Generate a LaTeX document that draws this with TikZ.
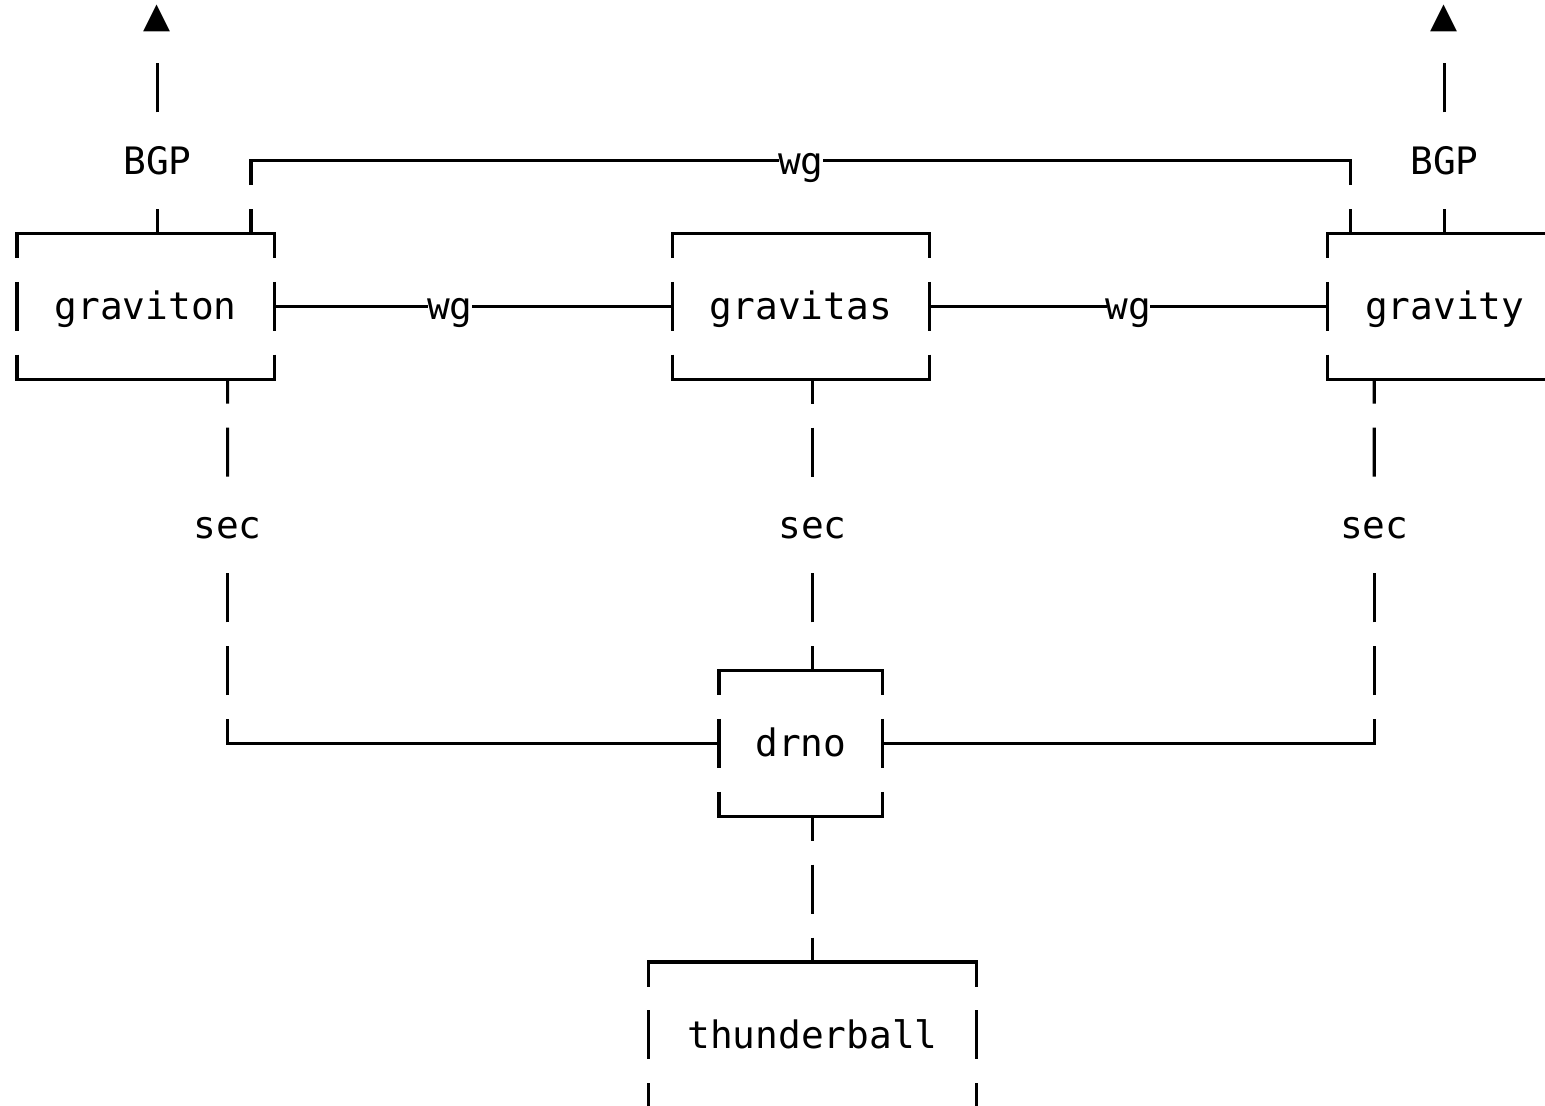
\documentclass[tikz,border=0pt]{standalone}
\usepackage{fontspec}
\setmonofont{DejaVu Sans Mono}
\newfontfamily\symfont{DejaVu Sans}
\usepackage{tikz}
\usetikzlibrary{calc}

\begin{document}
\begin{tikzpicture}[x=0.468cm, y=-1.457cm,
      txt/.style={font=\ttfamily\fontsize{21.5}{21.5}\selectfont, inner sep=0, outer sep=0, text height=0.7cm, text depth=0.16cm},
      host/.style={txt, minimum height=2.914cm},
      lbl/.style={txt, minimum height=1.457cm},
      tip/.style={font=\symfont\fontsize{20}{20}\selectfont, inner sep=0, outer sep=0, minimum height=1.457cm},
      hl/.style={line width=0.062cm, line cap=rect},
      vl/.style={line width=0.062cm, dash pattern=on 0.98cm off 0.477cm, dash phase=0.49cm}]

  \useasboundingbox (-0.7265,-0.2059) rectangle (65.299,14.976);
  \clip (-0.7265,-0.2059) rectangle (65.299,14.976);

  % Hosts
  \node[host, minimum width=5.148cm] (graviton) at (5.5,4) {graviton};
  \node[host, minimum width=5.148cm] (gravitas) at (33.5,4) {gravitas};
  \node[host, minimum width=5.148cm] (gravity) at (61.5,4) {gravity\phantom{y}};
  \node[host, minimum width=3.276cm] (drno) at (33.5,10) {drno};
  \node[host, minimum width=6.552cm] (thunderball) at (34,14) {thunderball};

  \foreach \b in {graviton, gravitas, gravity, drno, thunderball} {
    \draw[hl] (\b.north west) -- (\b.north east);
    \draw[hl] (\b.south west) -- (\b.south east);
    \draw[vl] (\b.north west) -- (\b.south west);
    \draw[vl] (\b.north east) -- (\b.south east);
  }

  % Labels
  \node[lbl, minimum width=0.936cm] (wgA) at (18.5,4) {wg};
  \node[lbl, minimum width=0.936cm] (wgB) at (47.5,4) {wg};
  \node[lbl, minimum width=0.936cm] (wgC) at (33.5,2) {wg};
  \node[lbl, minimum width=1.404cm] (bgpL) at (6,2) {BGP};
  \node[lbl, minimum width=1.404cm] (bgpR) at (61,2) {BGP};
  \node[lbl, minimum width=1.404cm] (secA) at (9,7) {sec};
  \node[lbl, minimum width=1.404cm] (secB) at (34,7) {sec};
  \node[lbl, minimum width=1.404cm] (secC) at (58,7) {sec};
  \node[tip] (tipL) at (6,0.05) {▲};
  \node[tip] (tipR) at (61,0.05) {▲};

  % wg links
  \draw[hl] (graviton.east) -- (wgA.west);
  \draw[hl] (wgA.east) -- (gravitas.west);
  \draw[hl] (gravitas.east) -- (wgB.west);
  \draw[hl] (wgB.east) -- (gravity.west);
  \draw[vl] ($(graviton.north east)+(-1,0)$) -- ($(graviton.north east)+(-1,-1)$);
  \draw[hl] ($(graviton.north east)+(-1,-1)$) -- (wgC.west);
  \draw[hl] (wgC.east) -- ($(gravity.north west)+(1,-1)$);
  \draw[vl] ($(gravity.north west)+(1,0)$) -- ($(gravity.north west)+(1,-1)$);

  % BGP uplinks
  \draw[vl] ($(graviton.north)+(0.5,0)$) -- (bgpL.south);
  \draw[vl, dash phase=1.2185cm] (bgpL.north) -- (tipL.south);
  \draw[vl] ($(gravity.north)+(-0.5,0)$) -- (bgpR.south);
  \draw[vl, dash phase=1.2185cm] (bgpR.north) -- (tipR.south);

  % sec links to drno
  \draw[vl] ($(graviton.south east)+(-2,0)$) -- (secA.north);
  \draw[vl] (secA |- drno) -- (secA.south);
  \draw[hl] (secA |- drno) -- (drno.west);
  \draw[vl] ($(gravitas.south)+(0.5,0)$) -- (secB.north);
  \draw[vl] ($(drno.north)+(0.5,0)$) -- (secB.south);
  \draw[vl] ($(gravity.south west)+(2,0)$) -- (secC.north);
  \draw[vl] (secC |- drno) -- (secC.south);
  \draw[hl] (drno.east) -- (secC |- drno);

  \draw[vl] ($(drno.south)+(0.5,0)$) -- (thunderball.north);
\end{tikzpicture}
\end{document}
